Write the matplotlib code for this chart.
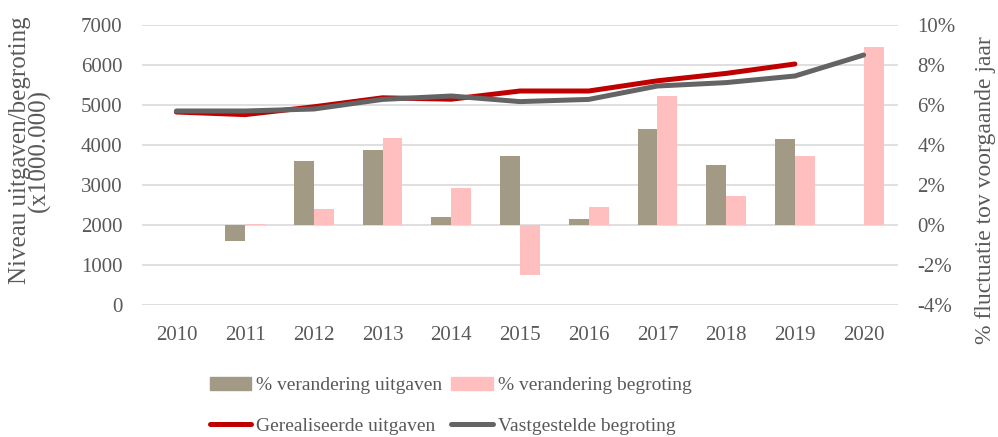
import numpy as np
import matplotlib
matplotlib.use("Agg")
import matplotlib.pyplot as plt
from matplotlib.patches import Patch
from matplotlib.lines import Line2D

plt.rcParams['font.family'] = ['Liberation Serif', 'DejaVu Serif']

years = ['2010', '2011', '2012', '2013', '2014', '2015', '2016', '2017', '2018', '2019', '2020']
# niveau (x1000.000)
gerealiseerd = [4825, 4760, 4955, 5180, 5145, 5350, 5350, 5605, 5790, 6025, np.nan]
vastgesteld = [4850, 4850, 4900, 5140, 5225, 5085, 5140, 5475, 5560, 5725, 6250]
# % verandering t.o.v. voorgaand jaar
pct_uitgaven = [np.nan, -0.8, 3.2, 3.73, 0.4, 3.43, 0.3, 4.8, 3.02, 4.28, np.nan]
pct_begroting = [np.nan, 0.05, 0.8, 4.33, 1.85, -2.5, 0.9, 6.47, 1.47, 3.47, 8.88]

grey_txt = '#595959'
c_uit = '#a39a85'
c_beg = '#ffbfbf'
c_red = '#c00000'
c_grey = '#646464'

fig = plt.figure(figsize=(9.98, 4.37), dpi=100)
ax1 = fig.add_axes([0.1423, 0.302, 0.7575, 0.6408])
ax2 = ax1.twinx()

x = np.arange(len(years))
w = 0.29
ax2.bar(x - w/2, pct_uitgaven, w, color=c_uit, zorder=2)
ax2.bar(x + w/2, pct_begroting, w, color=c_beg, zorder=2)
ax2.set_ylim(-4, 10)
ax2.set_yticks(np.arange(-4, 11, 2))
ax2.set_yticklabels([f'{v}%' for v in range(-4, 11, 2)])
ax2.grid(axis='y', color='#d9d9d9', lw=1.2, zorder=0)
ax2.set_axisbelow(True)

ax1.plot(x, gerealiseerd, color=c_red, lw=3.6, solid_capstyle='round', zorder=3)
ax1.plot(x, vastgesteld, color=c_grey, lw=3.6, solid_capstyle='round', zorder=3)
ax1.set_ylim(0, 7000)
ax1.set_yticks(np.arange(0, 7001, 1000))
ax1.set_xlim(-0.5, len(years) - 0.5)
ax1.set_xticks(x)
ax1.set_xticklabels(years)
ax1.set_zorder(ax2.get_zorder() + 1)
ax1.patch.set_visible(False)

for a in (ax1, ax2):
    for s in a.spines.values():
        s.set_visible(False)
    a.tick_params(length=0, labelsize=15, labelcolor=grey_txt)
ax1.tick_params(axis='y', pad=14)
ax1.tick_params(axis='x', pad=15)
ax2.tick_params(axis='y', pad=14)

ax1.set_ylabel('Niveau uitgaven/begroting\n(x1000.000)', fontsize=18, color=grey_txt,
               linespacing=0.85)
ax1.yaxis.set_label_coords(-0.12, 0.553)
ax2.set_ylabel('% fluctuatie tov voorgaande jaar', fontsize=17, color=grey_txt)
ax2.yaxis.set_label_coords(1.102, 0.41)

handles = [Patch(color=c_uit), Line2D([], [], color=c_red, lw=3.6, solid_capstyle='round'),
           Patch(color=c_beg), Line2D([], [], color=c_grey, lw=3.6, solid_capstyle='round')]
labels = ['% verandering uitgaven', 'Gerealiseerde uitgaven',
          '% verandering begroting', 'Vastgestelde begroting']
leg = fig.legend(handles, labels, ncol=2, loc='upper left', bbox_to_anchor=(0.21, 0.138),
                 frameon=False, fontsize=14, labelcolor=grey_txt, handlelength=2.15,
                 handletextpad=0.25, columnspacing=0.45, labelspacing=1.2, borderaxespad=0,
                 borderpad=0)

fig.savefig('out.png', dpi=100)
